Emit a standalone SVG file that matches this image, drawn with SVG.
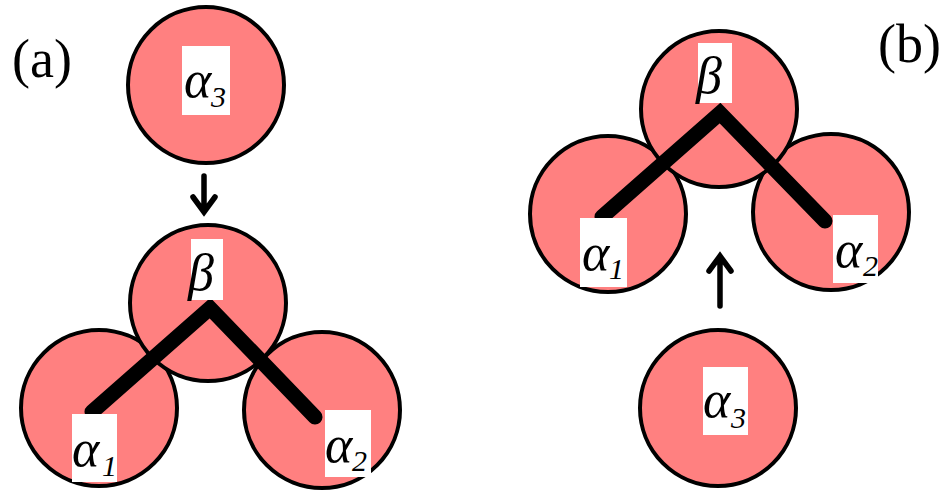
<svg xmlns="http://www.w3.org/2000/svg" width="945" height="491" viewBox="0 0 945 491">
<style>
.ball{fill:#ff8080;stroke:#000;stroke-width:4}
.bond{fill:none;stroke:#000;stroke-width:15;stroke-linecap:round;stroke-linejoin:miter}
.box{fill:#fff}
.g{font-family:"Liberation Serif","Times New Roman",serif;font-style:italic;font-size:52px;fill:#000}
.s{font-family:"Liberation Serif","Times New Roman",serif;font-style:italic;font-size:30px;fill:#000}
.lab{font-family:"Liberation Serif","Times New Roman",serif;font-size:54px;fill:#000}
.arr{fill:none;stroke:#000;stroke-width:5.5;stroke-linecap:round;stroke-linejoin:miter}
</style>
<rect width="945" height="491" fill="#fff"/>
<text class="lab" x="12" y="77">(a)</text>
<text class="lab" x="878" y="62">(b)</text>

<g id="a-alpha3">
<circle class="ball" cx="206" cy="85" r="78"/>
<rect class="box" x="182" y="46" width="48" height="69"/>
<text class="g" x="184" y="97">α</text><text class="s" x="211" y="107">3</text>
</g>
<g id="a-alpha1">
<circle class="ball" cx="99" cy="408" r="78"/>
</g>
<g id="a-alpha2">
<circle class="ball" cx="322" cy="410" r="78"/>
</g>
<g id="a-beta">
<circle class="ball" cx="208" cy="303" r="78"/>
</g>
<g id="a-bonds">
<polyline class="bond" points="92,412 210,308 315,417"/>
</g>
<g id="a-labels">
<rect class="box" x="191" y="239" width="32" height="61"/>
<text class="g" x="188" y="290">β</text>
<rect class="box" x="72" y="414" width="45" height="68"/>
<text class="g" x="72" y="466">α</text><text class="s" x="102" y="476">1</text>
<rect class="box" x="325" y="410" width="46" height="67"/>
<text class="g" x="325" y="462">α</text><text class="s" x="352" y="471">2</text>
</g>

<g id="b-alpha1">
<circle class="ball" cx="608" cy="214" r="78"/>
</g>
<g id="b-alpha2">
<circle class="ball" cx="831" cy="212" r="78"/>
</g>
<g id="b-beta">
<circle class="ball" cx="719" cy="109" r="78"/>
</g>
<g id="b-bonds">
<polyline class="bond" points="602,217 720,113 825,221"/>
</g>
<g id="b-labels">
<rect class="box" x="698" y="43" width="34" height="60"/>
<text class="g" x="696" y="93">β</text>
<rect class="box" x="580" y="218" width="47" height="69"/>
<text class="g" x="582" y="270">α</text><text class="s" x="609" y="279">1</text>
<rect class="box" x="833" y="215" width="45" height="68"/>
<text class="g" x="835" y="267">α</text><text class="s" x="863" y="276">2</text>
</g>
<g id="b-alpha3">
<circle class="ball" cx="718" cy="408" r="78"/>
<rect class="box" x="703" y="367" width="45" height="68"/>
<text class="g" x="703" y="417">α</text><text class="s" x="731" y="428">3</text>
</g>

<g id="connectors">
<path class="arr" d="M204,176 V210 M193,197 L204,212 L215,197"/>
<path class="arr" d="M720,306 V258 M709,271 L720,256 L731,271"/>
</g>
</svg>
